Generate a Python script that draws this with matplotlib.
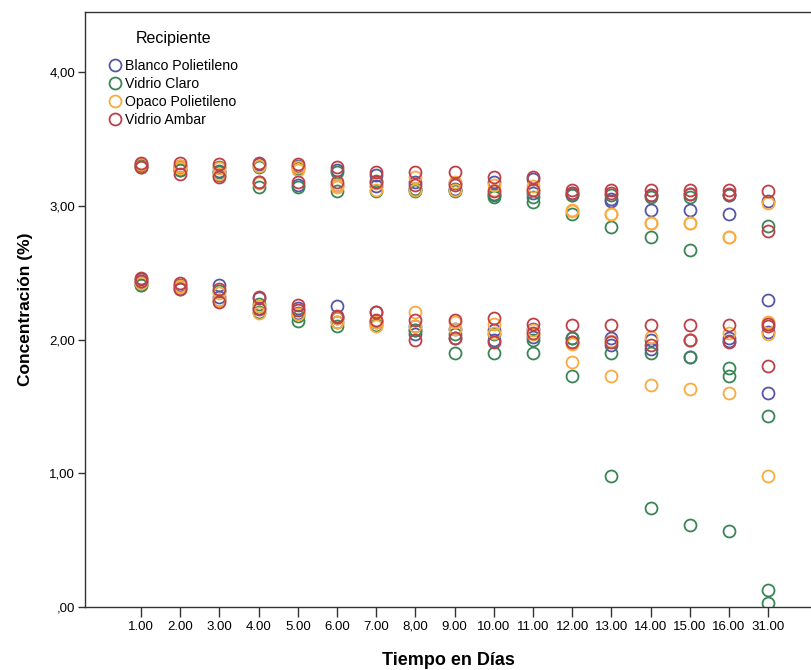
import matplotlib
matplotlib.use("Agg")
import matplotlib.pyplot as plt

dias = ['1.00', '2.00', '3.00', '4.00', '5.00', '6.00', '7.00', '8,00', '9.00',
        '10.00', '11.00', '12.00', '13.00', '14.00', '15.00', '16.00', '31.00']

recipientes = ['Blanco Polietileno', 'Vidrio Claro', 'Opaco Polietileno', 'Vidrio Ambar']
colores = ['#5656a8', '#3a8556', '#fbaa3e', '#bf3f47']

blanco = [
    [3.31, 3.30, 2.45, 2.43], [3.30, 3.27, 2.41, 2.39], [3.26, 3.23, 2.41, 2.32],
    [3.31, 3.18, 2.31, 2.24], [3.30, 3.16, 2.24, 2.20], [3.27, 3.16, 2.25, 2.16],
    [3.23, 3.15, 2.21, 2.13], [3.18, 3.13, 2.10, 2.04], [3.17, 3.13, 2.08, 2.01],
    [3.18, 3.09, 2.07, 2.00], [3.20, 3.10, 2.08, 2.02], [3.10, 3.08, 2.01, 1.98],
    [3.05, 3.04, 2.01, 1.96], [3.08, 2.97, 2.00, 1.93], [3.09, 2.97, 2.00, 1.87],
    [3.08, 2.94, 2.01, 1.99], [3.04, 2.30, 2.06, 1.60],
]
vidrio_claro = [
    [3.30, 3.29, 2.41, 2.41], [3.29, 3.27, 2.40, 2.38], [3.29, 3.25, 2.36, 2.30],
    [3.29, 3.14, 2.27, 2.21], [3.28, 3.14, 2.18, 2.14], [3.25, 3.11, 2.13, 2.10],
    [3.19, 3.11, 2.14, 2.11], [3.13, 3.11, 2.07, 2.07], [3.12, 3.11, 2.04, 1.90],
    [3.08, 3.07, 2.04, 1.90], [3.07, 3.03, 2.00, 1.90], [3.08, 2.94, 2.01, 1.73],
    [3.08, 2.84, 1.90, 0.98], [3.07, 2.77, 1.90, 0.74], [3.07, 2.67, 1.87, 0.61],
    [3.08, 1.79, 1.73, 0.57], [2.85, 1.43, 0.13, 0.03],
]
opaco = [
    [3.31, 3.29, 2.44, 2.42], [3.30, 3.28, 2.40, 2.39], [3.28, 3.24, 2.35, 2.30],
    [3.30, 3.17, 2.25, 2.20], [3.29, 3.27, 2.22, 2.19], [3.16, 3.14, 2.16, 2.13],
    [3.17, 3.12, 2.13, 2.10], [3.22, 3.12, 2.21, 2.10], [3.18, 3.12, 2.13, 2.08],
    [3.16, 3.12, 2.12, 2.05], [3.15, 3.12, 2.07, 2.04], [2.97, 2.96, 1.97, 1.83],
    [2.94, 2.94, 1.99, 1.73], [2.87, 2.87, 2.02, 1.66], [2.87, 2.87, 2.00, 1.63],
    [2.77, 2.77, 2.05, 1.60], [3.02, 2.13, 2.04, 0.98],
]
vidrio_ambar = [
    [3.32, 3.29, 2.46, 2.44], [3.32, 3.24, 2.42, 2.38], [3.31, 3.22, 2.38, 2.28],
    [3.32, 3.18, 2.32, 2.23], [3.31, 3.18, 2.26, 2.22], [3.29, 3.18, 2.18, 2.17],
    [3.25, 3.18, 2.21, 2.15], [3.25, 3.16, 2.15, 2.00], [3.25, 3.16, 2.15, 2.01],
    [3.22, 3.11, 2.16, 1.98], [3.22, 3.12, 2.12, 2.05], [3.12, 3.10, 2.11, 1.98],
    [3.12, 3.10, 2.11, 1.98], [3.12, 3.08, 2.11, 1.96], [3.12, 3.09, 2.11, 2.00],
    [3.12, 3.09, 2.11, 1.98], [3.11, 2.81, 2.12, 2.10, 1.80],
]

y_ticks = [0, 1, 2, 3, 4]
y_labels = [',00', '1,00', '2,00', '3,00', '4,00']

fig = plt.figure(figsize=(8.12, 6.70), dpi=100)
ax = fig.add_axes([0.1047, 0.094, 0.8953, 0.888])

series = [blanco, vidrio_claro, opaco, vidrio_ambar]
for nombre, color, datos in zip(recipientes, colores, series):
    xs, ys = [], []
    for i, vals in enumerate(datos):
        for v in vals:
            xs.append(i)
            ys.append(v)
    ax.plot(xs, ys, linestyle='none', marker='o', markersize=8.6,
            markerfacecolor='none', markeredgecolor=color, markeredgewidth=1.3,
            label=nombre)

ax.set_xlim(-1.43, 17.12)
ax.set_ylim(0, 4.45)
ax.set_xticks(range(len(dias)))
ax.set_xticklabels(dias, family='Liberation Sans', fontsize=9.5)
ax.set_yticks(y_ticks)
ax.set_yticklabels(y_labels, family='Liberation Sans', fontsize=9.5)
ax.tick_params(axis='x', length=7, width=1, pad=3, color='#333333')
ax.tick_params(axis='y', length=5, width=1, pad=2, color='#333333')

for s in ['left', 'bottom', 'top']:
    ax.spines[s].set_linewidth(1.0)
    ax.spines[s].set_color('#333333')
ax.spines['right'].set_visible(False)

ax.set_ylabel('Concentración (%)', family='Liberation Sans', fontsize=12.5,
              fontweight='bold', labelpad=12)
ax.set_xlabel('Tiempo en Días', family='Liberation Sans',
              fontsize=13, fontweight='bold', labelpad=14)

leg = ax.legend(title='Recipiente', loc='upper left', bbox_to_anchor=(0.021, 0.982),
                frameon=False, handlelength=0.9, handletextpad=0.25,
                labelspacing=0.28, borderaxespad=0.2,
                prop={'family': 'Liberation Sans', 'size': 10.2},
                title_fontproperties={'family': 'Liberation Sans', 'size': 11.5})
leg._legend_box.align = 'center'
leg._legend_box.sep = 9

fig.savefig('out.png', dpi=100)
